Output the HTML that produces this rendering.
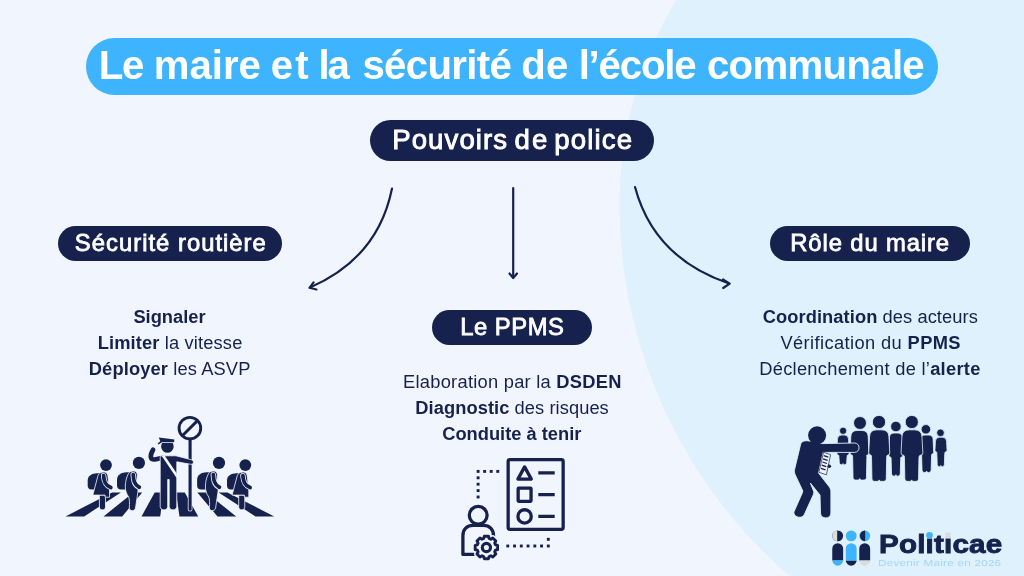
<!DOCTYPE html>
<html lang="fr"><head><meta charset="utf-8"><title>Le maire et la sécurité de l’école communale</title>
<style>
html,body{margin:0;padding:0}
body{width:1024px;height:576px;overflow:hidden;position:relative;background:#f1f6fe;font-family:"Liberation Sans",sans-serif}
.pill{position:absolute;border-radius:999px;background:#17214d}
.t{position:absolute;white-space:nowrap;line-height:1.117;font-weight:400}
#txt{position:absolute;left:0;top:0;width:1024px;height:576px;will-change:transform}
.t b{font-weight:700}
svg{position:absolute;overflow:visible}
</style></head><body>
<svg style="left:0;top:0" width="1024" height="576" viewBox="0 0 1024 576"><path d="M1030 -10L682.200 -10A400 400 0 0 0 619.500 205A490 490 0 0 0 801.400 586L1030 586Z" fill="#dff1fc"/></svg>
<div class="pill" style="left:86px;top:38.1px;width:852.2px;height:56.9px;background:#3db4fd"></div>
<div class="pill" style="left:370px;top:119.6px;width:284px;height:41.5px"></div>
<div class="pill" style="left:57.5px;top:225.6px;width:224.3px;height:35.2px"></div>
<div class="pill" style="left:431.8px;top:310px;width:159.8px;height:35px"></div>
<div class="pill" style="left:769.5px;top:225.5px;width:200px;height:35.5px"></div>
<div id="txt">
<div class="g" id="title" role="heading" aria-label="Le maire et la sécurité de l’école communale">
<span class="t" id="title0" style="left:98.79px;top:43.96px;font-size:40.2px;color:#fff;letter-spacing:-1.299px;"><b>Le</b></span>
<span class="t" id="title1" style="left:153.79px;top:43.96px;font-size:40.2px;color:#fff;letter-spacing:-0.033px;"><b>maire</b></span>
<span class="t" id="title2" style="left:270.64px;top:43.96px;font-size:40.2px;color:#fff;letter-spacing:2.290px;"><b>et</b></span>
<span class="t" id="title3" style="left:318.58px;top:43.96px;font-size:40.2px;color:#fff;letter-spacing:-2.190px;"><b>la</b></span>
<span class="t" id="title4" style="left:362.38px;top:43.96px;font-size:40.2px;color:#fff;letter-spacing:-0.683px;"><b>sécurité</b></span>
<span class="t" id="title5" style="left:521.33px;top:43.96px;font-size:40.2px;color:#fff;letter-spacing:0.169px;"><b>de</b></span>
<span class="t" id="title6" style="left:578.63px;top:43.96px;font-size:40.2px;color:#fff;letter-spacing:-1.186px;"><b>l’école</b></span>
<span class="t" id="title7" style="left:706.95px;top:43.96px;font-size:40.2px;color:#fff;letter-spacing:-0.693px;"><b>communale</b></span>
</div>
<div class="g" id="pp" role="heading" aria-label="Pouvoirs de police">
<span class="t" id="pp0" style="left:392.25px;top:124.52px;font-size:27.6px;color:#fff;letter-spacing:1.060px;-webkit-text-stroke:0.9px #fff;">Pouvoirs</span>
<span class="t" id="pp1" style="left:514.62px;top:124.52px;font-size:27.6px;color:#fff;letter-spacing:1.936px;-webkit-text-stroke:0.9px #fff;">de</span>
<span class="t" id="pp2" style="left:554.13px;top:124.52px;font-size:27.6px;color:#fff;letter-spacing:1.174px;-webkit-text-stroke:0.9px #fff;">police</span>
</div>
<div class="t" id="sr" style="left:74.86px;top:229.66px;font-size:23.8px;color:#fff;letter-spacing:1.021px;-webkit-text-stroke:0.8px #fff;">Sécurité routière</div>
<div class="t" id="ppms" style="left:460.16px;top:313.86px;font-size:23.8px;color:#fff;letter-spacing:0.533px;-webkit-text-stroke:0.8px #fff;">Le PPMS</div>
<div class="t" id="role" style="left:790.30px;top:229.66px;font-size:23.8px;color:#fff;letter-spacing:0.887px;-webkit-text-stroke:0.8px #fff;">Rôle du maire</div>
<div class="t" id="l1" style="left:133.41px;top:307.24px;font-size:18.3px;color:#17214d;letter-spacing:0.000px;"><b>Signaler</b></div>
<div class="t" id="l2" style="left:97.67px;top:333.24px;font-size:18.3px;color:#17214d;letter-spacing:0.142px;"><b>Limiter</b> la vitesse</div>
<div class="t" id="l3" style="left:88.81px;top:359.24px;font-size:18.3px;color:#17214d;letter-spacing:0.125px;"><b>Déployer</b> les ASVP</div>
<div class="t" id="c1" style="left:403.07px;top:372.24px;font-size:18.3px;color:#17214d;letter-spacing:0.259px;">Elaboration par la <b>DSDEN</b></div>
<div class="t" id="c2" style="left:415.33px;top:398.24px;font-size:18.3px;color:#17214d;letter-spacing:0.067px;"><b>Diagnostic</b> des risques</div>
<div class="t" id="c3" style="left:442.27px;top:424.24px;font-size:18.3px;color:#17214d;letter-spacing:-0.005px;"><b>Conduite à tenir</b></div>
<div class="t" id="r1" style="left:762.74px;top:307.24px;font-size:18.3px;color:#17214d;letter-spacing:0.077px;"><b>Coordination</b> des acteurs</div>
<div class="t" id="r2" style="left:780.42px;top:333.24px;font-size:18.3px;color:#17214d;letter-spacing:0.388px;">Vérification du <b>PPMS</b></div>
<div class="t" id="r3" style="left:759.26px;top:359.24px;font-size:18.3px;color:#17214d;letter-spacing:0.276px;">Déclenchement de l’<b>alerte</b></div>
<div class="t" id="brand" style="left:878.60px;top:529.88px;font-size:26.2px;color:#17214d;letter-spacing:0.160px;-webkit-text-stroke:0.9px #17214d;transform:scaleX(1.13);transform-origin:0 0;"><b>Politicae</b></div>
<div class="t" id="tag" style="left:878.49px;top:556.84px;font-size:9.9px;color:#a3d6f8;letter-spacing:0.221px;transform:scaleX(1.18);transform-origin:0 0;">Devenir Maire en 2026</div>
</div>
<svg id="arrows" style="left:0;top:0" width="1024" height="576" viewBox="0 0 1024 576" fill="none" stroke="#17214d" stroke-width="2.200" stroke-linecap="round" stroke-linejoin="round">
<path d="M392 188.500Q378 258 310 287.500"/>
<path d="M313.600 282.300L309.500 287.800L316.500 289.500"/>
<path d="M513.200 188L513.200 277.500"/>
<path d="M509.500 273.500L513.200 278L517 273.500"/>
<path d="M635 187Q654 258 729 283.500"/>
<path d="M723 279.500L729.700 283.600L723.200 288"/>
</svg>
<svg id="icon1" style="left:0;top:0" width="1024" height="576" viewBox="0 0 1024 576" fill="#17214d">
<polygon points="65.5,516.4 84.2,516.4 120.9,492.5 112.1,492.5"/>
<polygon points="103.5,516.4 122.2,516.4 142.2,492.5 133.4,492.5"/>
<polygon points="141.5,516.4 160.2,516.4 163.5,492.5 154.7,492.5"/>
<polygon points="179.5,516.4 198.2,516.4 184.8,492.5 176.0,492.5"/>
<polygon points="217.5,516.4 236.2,516.4 206.1,492.5 197.3,492.5"/>
<polygon points="255.5,516.4 274.2,516.4 227.4,492.5 218.6,492.5"/>
<g transform="translate(0,0)">
<circle cx="106" cy="465.100" r="5.900"/>
<path d="M97 473.200C92 473.500 87.700 475.500 87.700 480.500L87.700 485.500C87.700 488 89 489.500 91.500 489.500L98 489.500L101 473.200Z"/>
<path d="M99.400 495.100L105.500 495.100L105.500 507C105.500 510.800 99.400 510.800 99.400 507Z" stroke="#f1f6fe" stroke-width="0.8"/>
<path d="M102.500 472.200C105 471.600 107 472.500 107.800 475.200L109.500 489.500L109.500 497.200L105.100 497.200L105.100 495.100L92.800 495.100L98 475.500C98.800 473.300 100.300 472.600 102.500 472.200Z" stroke="#f1f6fe" stroke-width="0.8"/>
<path d="M103.600 475.600C104 481 105 485.300 110.800 487.600" fill="none" stroke="#f1f6fe" stroke-width="5.400" stroke-linecap="round"/>
<path d="M103.600 475.600C104 481 105 485.300 110.800 487.600" fill="none" stroke="#17214d" stroke-width="3.800" stroke-linecap="round"/>
</g>
<g transform="translate(0,0)">
<circle cx="138.900" cy="462.900" r="6.100"/>
<path d="M126.500 472.300C121.500 472.600 117 474.500 117 480L117 485.500C117 488 118.500 489.500 121 489.500L128 489.500L130 472.300Z"/>
<path d="M132 471.200C134.500 470.500 137 471.500 137.300 474.500L136.800 484.500C137.900 487 138.300 489.500 137.800 492.500L135.500 508C135 511.700 129.100 511.400 129.300 507.800C129.700 503 129.500 499.500 128.700 497C126.500 494 125.200 490.500 125.300 486C125.400 481 126.800 476.500 128.600 473.200C129.400 472 130.500 471.500 132 471.200Z" stroke="#f1f6fe" stroke-width="0.8"/>
<path d="M133.200 474.600C133.500 480 134 484.500 139.300 487.200" fill="none" stroke="#f1f6fe" stroke-width="5.400" stroke-linecap="round"/>
<path d="M133.200 474.600C133.500 480 134 484.500 139.300 487.200" fill="none" stroke="#17214d" stroke-width="3.800" stroke-linecap="round"/>
</g>
<g>
<circle cx="189.900" cy="428.200" r="10.800" fill="none" stroke="#17214d" stroke-width="2.900"/>
<path d="M182.300 435.800L197.500 420.600" stroke="#17214d" stroke-width="2.900" fill="none"/>
<path d="M190.100 486L190.100 509.300" stroke="#f1f6fe" stroke-width="4.600" fill="none" stroke-linecap="round"/>
<path d="M190.100 439L190.100 509.300" stroke="#17214d" stroke-width="3.100" fill="none" stroke-linecap="round"/>
<path d="M172.640 442.900A6.300 6.300 0 1 1 162.160 442.900Z"/>
<path d="M158.800 437.500L174.400 439.500L174.100 442.300L162 442.300L158.500 444.600L157.600 443.400L160.300 441.200Z"/>
<path d="M153.100 449.800C151.500 452.500 150.500 455 150.800 457C151.300 459.300 153.500 459.800 156 459.300L162 458" fill="none" stroke="#17214d" stroke-width="4.700" stroke-linecap="round" stroke-linejoin="round"/>
<path d="M160.200 457.500C160.200 456.500 161 455.800 162 455.800L176 455.800L191.500 459.800C194.500 460.600 193.800 464.800 190.800 464.300L176.800 461.800L176.800 506.500C176.800 511 169.200 511 169.200 506.500L169.200 479.500L167.700 479.500L167.700 506.500C167.700 511 160.200 511 160.200 506.500Z" stroke="#f1f6fe" stroke-width="0.8"/>
<path d="M161.600 455.800L176.800 478.200L176.800 473.600L164.800 455.800Z" fill="#f1f6fe"/>
</g>
<g transform="translate(80.1,0)">
<circle cx="138.900" cy="462.900" r="6.100"/>
<path d="M126.500 472.300C121.500 472.600 117 474.500 117 480L117 485.500C117 488 118.500 489.500 121 489.500L128 489.500L130 472.300Z"/>
<path d="M132 471.200C134.500 470.500 137 471.500 137.300 474.500L136.800 484.500C137.900 487 138.300 489.500 137.800 492.500L135.500 508C135 511.700 129.100 511.400 129.300 507.800C129.700 503 129.500 499.500 128.700 497C126.500 494 125.200 490.500 125.300 486C125.400 481 126.800 476.500 128.600 473.200C129.400 472 130.500 471.500 132 471.200Z" stroke="#f1f6fe" stroke-width="0.8"/>
<path d="M133.200 474.600C133.500 480 134 484.500 139.300 487.200" fill="none" stroke="#f1f6fe" stroke-width="5.400" stroke-linecap="round"/>
<path d="M133.200 474.600C133.500 480 134 484.500 139.300 487.200" fill="none" stroke="#17214d" stroke-width="3.800" stroke-linecap="round"/>
</g>
<g transform="translate(139.3,0)">
<circle cx="106" cy="465.100" r="5.900"/>
<path d="M97 473.200C92 473.500 87.700 475.500 87.700 480.500L87.700 485.500C87.700 488 89 489.500 91.500 489.500L98 489.500L101 473.200Z"/>
<path d="M99.400 495.100L105.500 495.100L105.500 507C105.500 510.800 99.400 510.800 99.400 507Z" stroke="#f1f6fe" stroke-width="0.8"/>
<path d="M102.500 472.200C105 471.600 107 472.500 107.800 475.200L109.500 489.500L109.500 497.200L105.100 497.200L105.100 495.100L92.800 495.100L98 475.500C98.800 473.300 100.300 472.600 102.500 472.200Z" stroke="#f1f6fe" stroke-width="0.8"/>
<path d="M103.600 475.600C104 481 105 485.300 110.800 487.600" fill="none" stroke="#f1f6fe" stroke-width="5.400" stroke-linecap="round"/>
<path d="M103.600 475.600C104 481 105 485.300 110.800 487.600" fill="none" stroke="#17214d" stroke-width="3.800" stroke-linecap="round"/>
</g>
</svg><svg id="icon2" style="left:0;top:0" width="1024" height="576" viewBox="0 0 1024 576" fill="none" stroke="#17214d" stroke-width="3.3" stroke-linejoin="round" stroke-linecap="round">
<rect x="508.150" y="459.650" width="55" height="69.650" rx="1.800"/>
<path d="M524.600 466.900L531.300 479.100L517.900 479.100Z"/>
<rect x="518.150" y="488.200" width="12.900" height="13.100" rx="0.500"/>
<circle cx="524.600" cy="516.400" r="6.650"/>
<path d="M538.300 472.900H554.700M538.300 494.700H554.700M538.300 516.400H554.700" stroke-width="3.200" stroke-linecap="butt"/>
<g fill="#17214d" stroke="none"><rect x="476.65" y="469.95" width="2.9" height="2.9"/><rect x="483.20" y="469.95" width="2.9" height="2.9"/><rect x="489.75" y="469.95" width="2.9" height="2.9"/><rect x="496.30" y="469.95" width="2.9" height="2.9"/><rect x="476.65" y="476.35" width="2.9" height="2.9"/><rect x="476.65" y="482.75" width="2.9" height="2.9"/><rect x="476.65" y="489.15" width="2.9" height="2.9"/><rect x="476.65" y="495.55" width="2.9" height="2.9"/><rect x="506.35" y="544.55" width="2.9" height="2.9"/><rect x="513.10" y="544.55" width="2.9" height="2.9"/><rect x="519.85" y="544.55" width="2.9" height="2.9"/><rect x="526.60" y="544.55" width="2.9" height="2.9"/><rect x="533.35" y="544.55" width="2.9" height="2.9"/><rect x="540.10" y="544.55" width="2.9" height="2.9"/><rect x="546.85" y="544.55" width="2.9" height="2.9"/><rect x="546.85" y="537.85" width="2.9" height="2.9"/></g>
<circle cx="478.200" cy="515.300" r="8.900"/>
<path d="M476 554.400H462.900V535.500C462.900 529.500 467 525.400 473 525.400H483.400C489.400 525.400 493.500 529.500 493.500 535.500V538"/>
<path d="M483.67 538.50L484.26 536.30L488.54 536.30L489.13 538.50L490.83 539.21L492.81 538.07L495.83 541.09L494.69 543.07L495.40 544.77L497.60 545.36L497.60 549.64L495.40 550.23L494.69 551.93L495.83 553.91L492.81 556.93L490.83 555.79L489.13 556.50L488.54 558.70L484.26 558.70L483.67 556.50L481.97 555.79L479.99 556.93L476.97 553.91L478.11 551.93L477.40 550.23L475.20 549.64L475.20 545.36L477.40 544.77L478.11 543.07L476.97 541.09L479.99 538.07L481.97 539.21Z" stroke="#f1f6fe" stroke-width="6" fill="#f1f6fe"/>
<path d="M483.67 538.50L484.26 536.30L488.54 536.30L489.13 538.50L490.83 539.21L492.81 538.07L495.83 541.09L494.69 543.07L495.40 544.77L497.60 545.36L497.60 549.64L495.40 550.23L494.69 551.93L495.83 553.91L492.81 556.93L490.83 555.79L489.13 556.50L488.54 558.70L484.26 558.70L483.67 556.50L481.97 555.79L479.99 556.93L476.97 553.91L478.11 551.93L477.40 550.23L475.20 549.64L475.20 545.36L477.40 544.77L478.11 543.07L476.97 541.09L479.99 538.07L481.97 539.21Z" fill="#f1f6fe" stroke-width="2.900"/>
<circle cx="486.400" cy="547.500" r="4.100" stroke-width="3.100"/>
</svg><svg id="icon3" style="left:0;top:0" width="1024" height="576" viewBox="0 0 1024 576" fill="#17214d">
<path d="M841.55 435.05H844.45Q848.45 435.05 848.57 439.04L849.05 453.55Q849.05 455.35 847.25 455.35Q847.05 455.35 847.05 457.15L846.65 462.72Q846.65 464.75 844.62 464.75H844.42Q843.00 464.75 843.00 463.53Q843.00 464.75 841.58 464.75H841.38Q839.35 464.75 839.35 462.72L838.95 457.15Q838.95 455.35 838.75 455.35Q836.95 455.35 836.95 453.55L837.43 439.04Q837.55 435.05 841.55 435.05Z" stroke="#dff1fc" stroke-width="0.8"/><circle cx="843.1" cy="430.8" r="3.65" stroke="#dff1fc" stroke-width="0.8"/>
<path d="M894.21 433.05H897.59Q902.25 433.05 902.39 437.70L902.95 455.28Q902.95 457.35 900.88 457.35Q900.65 457.35 900.65 459.42L900.25 473.78Q900.25 476.15 897.88 476.15H897.56Q895.90 476.15 895.90 474.73Q895.90 476.15 894.24 476.15H893.92Q891.55 476.15 891.55 473.78L891.15 459.42Q891.15 457.35 890.92 457.35Q888.85 457.35 888.85 455.28L889.41 437.70Q889.56 433.05 894.21 433.05Z" stroke="#dff1fc" stroke-width="0.8"/><circle cx="895.9" cy="426.5" r="5.25" stroke="#dff1fc" stroke-width="0.8"/>
<path d="M925.22 435.05H928.48Q932.97 435.05 933.11 439.54L933.65 452.51Q933.65 453.95 932.21 453.95Q931.55 453.95 931.55 455.39L931.15 470.15Q931.15 472.55 928.75 472.55H928.28Q926.60 472.55 926.60 471.11Q926.60 472.55 924.92 472.55H924.45Q922.05 472.55 922.05 470.15L921.65 455.39Q921.65 453.95 921.49 453.95Q920.05 453.95 920.05 452.51L920.59 439.54Q920.73 435.05 925.22 435.05Z" stroke="#dff1fc" stroke-width="0.8"/><circle cx="925.9" cy="429.3" r="4.75" stroke="#dff1fc" stroke-width="0.8"/>
<path d="M939.55 437.25H942.45Q946.45 437.25 946.57 441.24L947.05 450.34Q947.05 452.05 945.34 452.05Q944.75 452.05 944.75 453.76L944.35 464.68Q944.35 466.65 942.38 466.65H942.18Q940.80 466.65 940.80 465.47Q940.80 466.65 939.42 466.65H939.23Q937.25 466.65 937.25 464.68L936.85 453.76Q936.85 452.05 936.66 452.05Q934.95 452.05 934.95 450.34L935.43 441.24Q935.55 437.25 939.55 437.25Z" stroke="#dff1fc" stroke-width="0.8"/><circle cx="940.5" cy="432.8" r="3.85" stroke="#dff1fc" stroke-width="0.8"/>
<path d="M857.23 430.45H861.77Q868.00 430.45 868.19 436.69L868.95 452.91Q868.95 455.25 866.61 455.25Q866.85 455.25 866.85 457.59L866.45 477.65Q866.45 480.05 864.05 480.05H861.43Q859.75 480.05 859.75 478.61Q859.75 480.05 858.07 480.05H855.45Q853.05 480.05 853.05 477.65L852.65 457.59Q852.65 455.25 852.39 455.25Q850.05 455.25 850.05 452.91L850.81 436.69Q851.00 430.45 857.23 430.45Z" stroke="#dff1fc" stroke-width="0.8"/><circle cx="860" cy="423" r="6.45" stroke="#dff1fc" stroke-width="0.8"/>
<path d="M876.73 429.85H881.77Q888.70 429.85 888.91 436.78L889.75 452.85Q889.75 455.25 887.35 455.25Q886.65 455.25 886.65 457.65L886.25 478.95Q886.25 481.35 883.85 481.35H880.78Q879.10 481.35 879.10 479.91Q879.10 481.35 877.42 481.35H874.35Q871.95 481.35 871.95 478.95L871.55 457.65Q871.55 455.25 871.15 455.25Q868.75 455.25 868.75 452.85L869.59 436.78Q869.80 429.85 876.73 429.85Z" stroke="#dff1fc" stroke-width="0.8"/><circle cx="879" cy="422" r="6.60" stroke="#dff1fc" stroke-width="0.8"/>
<path d="M909.33 429.85H914.57Q921.76 429.85 921.98 437.04L922.85 452.85Q922.85 455.25 920.45 455.25Q918.95 455.25 918.95 457.65L918.55 478.95Q918.55 481.35 916.15 481.35H913.38Q911.70 481.35 911.70 479.91Q911.70 481.35 910.02 481.35H907.25Q904.85 481.35 904.85 478.95L904.45 457.65Q904.45 455.25 903.45 455.25Q901.05 455.25 901.05 452.85L901.92 437.04Q902.14 429.85 909.33 429.85Z" stroke="#dff1fc" stroke-width="0.8"/><circle cx="911.8" cy="422" r="6.60" stroke="#dff1fc" stroke-width="0.8"/>
<path d="M803.200 441.400C805 440.300 808 440.600 812 441.600L822.300 443.600L854.400 443C860.600 443 860.600 452.400 854.400 452.400L823.200 452.400L818.500 473L829 486.500C830.300 488.200 830.900 489.800 830.900 492L830.900 513C830.900 519.600 820.500 519.600 820.500 513L820 495L810.300 483L813.600 491C814 492.300 813.900 493.300 813.400 494.500L804.300 514.500C801.800 520 792 516.500 794.200 511.300L802.500 492.500C802.900 491.500 802.800 490.800 802.300 489.800L795.300 475C794.300 472.800 794.200 471 794.700 469L800.500 444.800C801 442.800 801.800 442 803.200 441.400Z" stroke="#dff1fc" stroke-width="0.9"/>
<circle cx="817.100" cy="435.300" r="9"/>
<path d="M823.600 452.300L830.600 454.700L826.400 474.800L818.900 472.300Z" fill="#eef3fa" stroke="#17214d" stroke-width="0.7"/>
<path d="M823.800 455.600L828.300 457.100M823.100 458.800L827.600 460.300M822.400 462L826.900 463.500M821.700 465.200L826.200 466.700M821 468.400L825.500 469.900" stroke="#17214d" stroke-width="1.300" fill="none"/>
<circle cx="829.300" cy="466.200" r="1.800"/>
</svg><svg id="logo" style="left:0;top:0" width="1024" height="576" viewBox="0 0 1024 576">
<circle cx="837.7" cy="535.85" r="5.45" fill="#17214d"/><path d="M837.20 530.42A5.45 5.45 0 0 0 837.20 541.28Z" fill="#dcdcdc"/><path d="M832.25 560.4V548.6500000000001A5.45 5.45 0 0 1 843.1500000000001 548.6500000000001V560.4Z" fill="#17214d"/><path d="M832.25 560.4V560.25A5.45 5.45 0 0 0 843.1500000000001 560.25V560.4Z" fill="#3db4fd"/>
<circle cx="851.2" cy="535.85" r="5.45" fill="#3db4fd"/><path d="M845.75 560.8V548.6500000000001A5.45 5.45 0 0 1 856.6500000000001 548.6500000000001V560.8Z" fill="#3db4fd"/><path d="M845.75 560.8V560.25A5.45 5.45 0 0 0 856.6500000000001 560.25V560.8Z" fill="#17214d"/>
<circle cx="864.7" cy="535.85" r="5.45" fill="#3db4fd"/><path d="M865.10 530.41A5.45 5.45 0 0 0 865.10 541.29Z" fill="#17214d"/><path d="M859.25 560.4V548.6500000000001A5.45 5.45 0 0 1 870.1500000000001 548.6500000000001V560.4Z" fill="#17214d"/><path d="M859.25 560.4V560.25A5.45 5.45 0 0 0 870.1500000000001 560.25V560.4Z" fill="#dcdcdc"/>
<rect x="926.44" y="532.87" width="6.14" height="4.47" fill="#dff1fc"/><circle cx="929.51" cy="535.20" r="3.300" fill="#3db4fd"/><rect x="944.97" y="532.88" width="6.29" height="4.45" fill="#dff1fc"/><rect x="945.41" y="532.50" width="5.400" height="5.400" fill="#dcdcdc"/>
</svg>
</body></html>
